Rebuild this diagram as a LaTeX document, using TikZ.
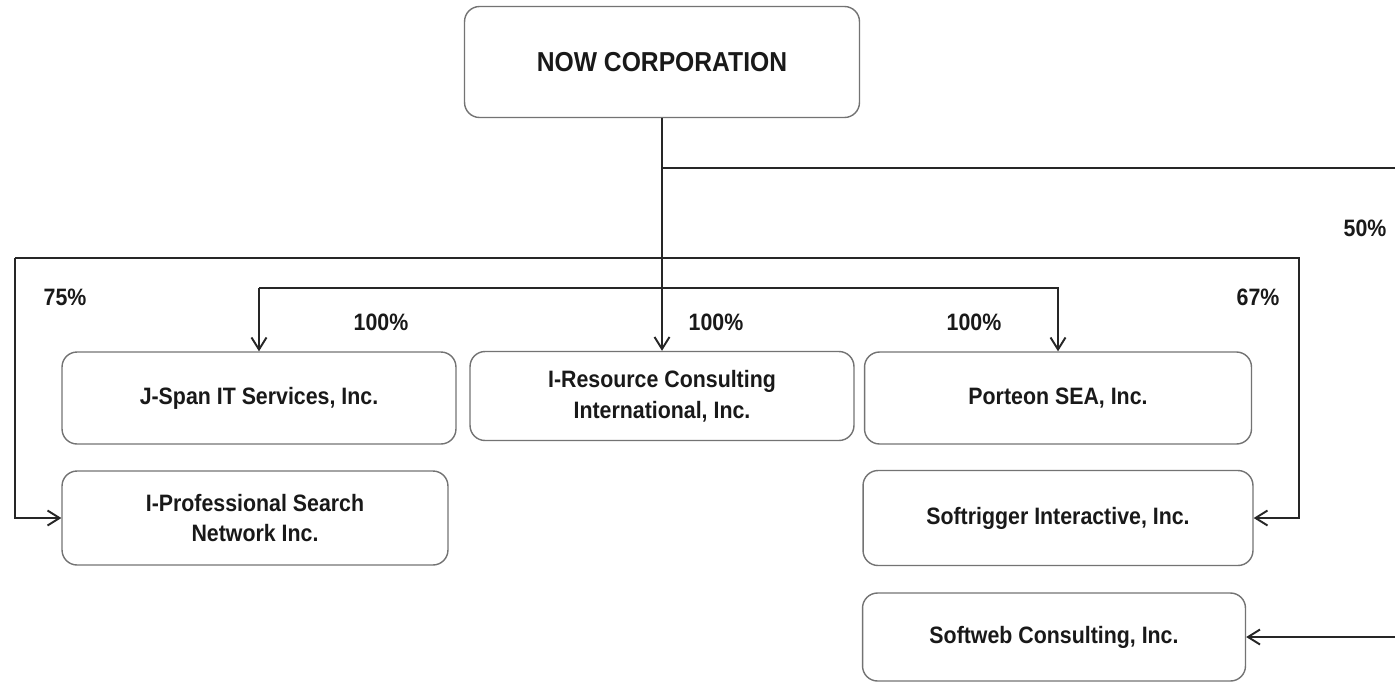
\documentclass[tikz,border=0pt]{standalone}
\usepackage{fontspec}
\setmainfont{Liberation Sans}[FakeStretch=0.9]
\usetikzlibrary{arrows.meta}

\begin{document}
\begin{tikzpicture}[x=0.02cm,y=-0.02cm]
		\tikzstyle{company} = [draw=black!55,line width=0.8pt,rounded corners=0.3cm,align=center,font=\bfseries\fontsize{13.5}{17.5}\selectfont,text=black!90]
		\tikzstyle{edge} = [line width=1.1pt,black!85]
		\tikzstyle{arr} = [edge,-{Straight Barb[length=2.4mm,width=3mm]}]
		\tikzstyle{share} = [font=\bfseries\fontsize{13.5}{15.5}\selectfont,text=black!90]
		\useasboundingbox (0,0) rectangle (1395,683);
		\node[company,minimum width=7.9cm,minimum height=2.22cm,font=\bfseries\fontsize{15.6}{18}\selectfont] (n1) at (662,62) {NOW CORPORATION};
		\node[company,minimum width=7.88cm,minimum height=1.84cm] (n2) at (259,398) {J-Span IT Services, Inc.};
		\node[company,minimum width=7.68cm,minimum height=1.78cm] (n3) at (662,396) {I-Resource Consulting\\International, Inc.};
		\node[company,minimum width=7.74cm,minimum height=1.84cm] (n4) at (1058,398) {Porteon SEA, Inc.};
		\node[company,minimum width=7.72cm,minimum height=1.88cm] (n5) at (255,518) {I-Professional Search\\Network Inc.};
		\node[company,minimum width=7.8cm,minimum height=1.9cm] (n6) at (1058,518) {Softrigger Interactive, Inc.};
		\node[company,minimum width=7.66cm,minimum height=1.76cm] (n7) at (1054,637) {Softweb Consulting, Inc.};
		\coordinate (c1) at (1405,168);
		\coordinate (c2) at (15,258);
		\coordinate (c3) at (1299,258);
		\coordinate (c4) at (259,288);
		\draw[arr] (n1.south) -- (n3.north);
		\draw[arr] (n1.south |- c1) -- (c1) |- (n7.east);
		\draw[arr] (c2) -- (c3) |- (n6.east);
		\draw[arr] (c2) |- (n5.west);
		\draw[arr] (c4) -- (n2.north);
		\draw[arr] (c4) -| (n4.north);
		\node[share] (p1) at (65,297) {75\%};
		\node[share] (p2) at (1258,297) {67\%};
		\node[share] (p3) at (1365,228) {50\%};
		\node[share] (p4) at (381,322) {100\%};
		\node[share] (p5) at (716,322) {100\%};
		\node[share] (p6) at (974,322) {100\%};
\end{tikzpicture}
\end{document}
